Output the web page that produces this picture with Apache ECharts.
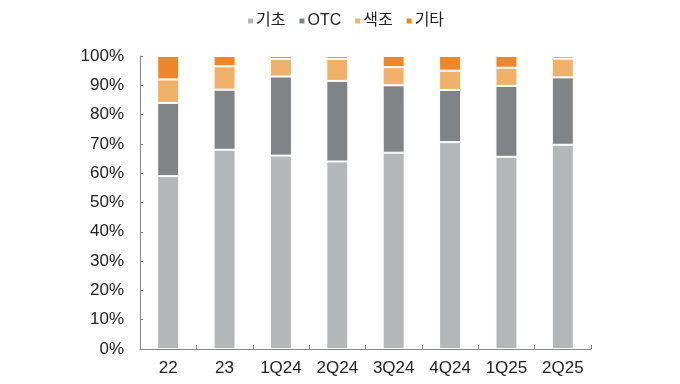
<!DOCTYPE html>
<html><head><meta charset="utf-8">
<script src="https://cdn.jsdelivr.net/npm/echarts@6/dist/echarts.min.js"></script>
<style>html,body{margin:0;padding:0;background:#fff}#c{width:680px;height:384px}</style>
</head><body><div id="c"></div>
<script>
const categories = ['22','23','1Q24','2Q24','3Q24','4Q24','1Q25','2Q25'];
const seriesNames = ['기초','OTC','색조','기타'];
const basic = [59, 68, 66, 64, 67, 70.6, 65.6, 69.7];
const otc = [25, 20.5, 27, 27.5, 23, 17.8, 24.2, 23];
const color = [8, 8, 6, 7.5, 6.2, 6.6, 6.2, 6.4];
const other = [8, 3.5, 1, 1, 3.8, 5, 4, 0.9];
const yTicks = [0,10,20,30,40,50,60,70,80,90,100];

const colors = ['#b5b6b8','#818486','#f0b26b','#f0862a'];
const dataSets = [basic, otc, color, other];
const font = "'Liberation Sans','Noto Sans CJK KR',sans-serif";
const chart = echarts.init(document.getElementById('c'));
chart.setOption({
  animation:false,
  textStyle:{fontFamily:font},
  legend:{top:8,left:241,itemWidth:7,itemHeight:7,itemGap:12,icon:'rect',
    textStyle:{fontSize:16,color:'#222',fontFamily:font,padding:[0,0,0,-3]},
    data:seriesNames},
  grid:{left:140,right:89,top:56,bottom:35,containLabel:false},
  xAxis:{type:'category',data:categories,
    axisLine:{lineStyle:{color:'#888',width:1}},
    axisTick:{show:true,inside:true,length:4,lineStyle:{color:'#888'}},
    axisLabel:{fontSize:17,color:'#222',margin:11}},
  yAxis:{type:'value',min:0,max:100,interval:10,
    axisLine:{show:true,lineStyle:{color:'#888'}},
    axisTick:{show:true,inside:true,length:3,lineStyle:{color:'#888'}},
    splitLine:{show:false},
    axisLabel:{fontSize:17,color:'#222',margin:16,formatter:v=>yTicks.includes(v)?v+'%':''}},
  series: seriesNames.map((n,i)=>({name:n,type:'bar',stack:'a',data:dataSets[i],
    barWidth:22,itemStyle:{color:colors[i],borderColor:'#fff',borderWidth:1}}))
});
</script></body></html>
